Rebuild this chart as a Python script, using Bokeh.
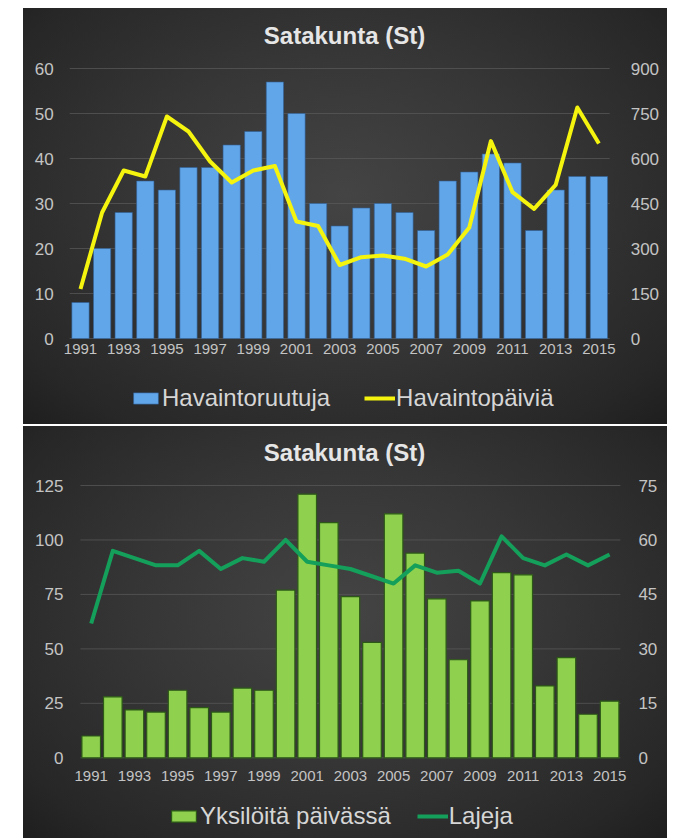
from bokeh.plotting import figure
from bokeh.models import (Range1d, LinearAxis, FixedTicker, Legend, LegendItem, Spacer, Label)
from bokeh.layouts import column, row
from bokeh.embed import file_html
from bokeh.resources import INLINE

years = list(range(1991, 2016))
tick_years = list(range(1991, 2016, 2))

# Top chart
havaintoruutuja = [8, 20, 28, 35, 33, 38, 38, 43, 46, 57, 50, 30, 25, 29, 30, 28, 24, 35, 37, 41, 39, 24, 33, 36, 36]
havaintopaivia = [165, 420, 560, 540, 740, 690, 590, 520, 560, 575, 390, 375, 245, 271, 277, 266, 240, 280, 370, 658, 488, 432, 512, 770, 650]
top_left_ticks = [0, 10, 20, 30, 40, 50, 60]
top_right_ticks = [0, 150, 300, 450, 600, 750, 900]

# Bottom chart
yksiloita = [10, 28, 22, 21, 31, 23, 21, 32, 31, 77, 121, 108, 74, 53, 112, 94, 73, 45, 72, 85, 84, 33, 46, 20, 26]
lajeja = [37, 57, 55, 53, 53, 57, 52, 55, 54, 60, 54, 53, 52, 50, 48, 53, 51, 51.5, 48, 61, 55, 53, 56, 53, 56]
bottom_left_ticks = [0, 25, 50, 75, 100, 125]
bottom_right_ticks = [0, 15, 30, 45, 60, 75]

TITLE = "Satakunta (St)"
BG_STYLE = {"background": "radial-gradient(ellipse at 50% 45%, #444444 0%, #363636 45%, #272727 85%, #1e1e1e 100%)"}

X_LO = years[0] - 0.5
X_HI = years[-1] + 0.5


def build(width, height, x_range, y_range, right_range, left_ticks, right_ticks,
          left_standoff, right_standoff, x_standoff):
    p = figure(width=width, height=height, output_backend="svg", toolbar_location=None,
               x_range=x_range, y_range=y_range,
               min_border_left=0, min_border_right=0, min_border_top=0, min_border_bottom=0,
               styles=BG_STYLE)
    p.border_fill_alpha = 0
    p.background_fill_alpha = 0
    p.outline_line_color = None
    p.xgrid.grid_line_color = None
    p.ygrid.grid_line_color = None

    # gridlines over the plotting area only
    p.segment(x0=[X_LO] * len(left_ticks), x1=[X_HI] * len(left_ticks),
              y0=left_ticks, y1=left_ticks, line_color="#585858", line_alpha=0.75, line_width=1)

    p.extra_y_ranges = {"right": right_range}
    ax_r = LinearAxis(y_range_name="right", ticker=FixedTicker(ticks=right_ticks))
    p.add_layout(ax_r, "right")

    for ax in [p.xaxis[0], p.yaxis[0], ax_r]:
        ax.axis_line_color = None
        ax.major_tick_line_color = None
        ax.minor_tick_line_color = None
        ax.major_tick_out = 0
        ax.major_tick_in = 0
        ax.minor_tick_out = 0
        ax.major_label_text_color = "#c4c4c4"
        ax.major_label_text_font = "Liberation Sans"
        ax.major_label_text_font_size = "17px"
    p.yaxis[0].ticker = FixedTicker(ticks=left_ticks)
    p.yaxis[0].fixed_location = X_LO
    p.yaxis[0].major_label_standoff = left_standoff
    ax_r.fixed_location = X_HI
    ax_r.major_label_standoff = right_standoff
    p.xaxis[0].ticker = FixedTicker(ticks=tick_years)
    p.xaxis[0].fixed_location = 0
    p.xaxis[0].major_label_text_font_size = "15px"
    p.xaxis[0].major_label_standoff = x_standoff
    return p


def add_title(p, sx, sy):
    p.add_layout(Label(x=sx, y=sy, x_units="screen", y_units="screen", text=TITLE,
                       text_font="Liberation Sans", text_font_style="bold",
                       text_font_size="24px", text_color="#e6e6e6",
                       text_align="center", text_baseline="middle"))


def make_legend(p, items, loc, spacing):
    leg = Legend(items=items, orientation="horizontal", location=loc,
                 background_fill_alpha=0, border_line_color=None,
                 label_text_font="Liberation Sans", label_text_font_size="24px",
                 label_text_color="#d6d6d6", glyph_width=31, glyph_height=14,
                 label_standoff=1, spacing=spacing, padding=2, margin=0)
    p.add_layout(leg, "center")


PX_PER_YEAR = 21.6

# ---- Top figure: page y 8..424, x 23..667; frame covers all of it
top_x0 = years[0] - (80 - 23) / PX_PER_YEAR
p1 = build(644, 416,
           Range1d(top_x0, top_x0 + 644 / PX_PER_YEAR),
           Range1d(-86 / 4.5, 60 + 60 / 4.5),
           Range1d(-86 / 0.3, 900 + 60 / 0.3),
           top_left_ticks, top_right_ticks, 16, 21, 5)
b1 = p1.vbar(x=years, top=havaintoruutuja, bottom=0, width=0.8, fill_color="#62a6ea",
             line_color="#2f5f95", line_width=0.6)
l1 = p1.line(years, havaintopaivia, y_range_name="right", line_color="#f4f40e",
             line_width=4, line_join="round")
add_title(p1, 321, 389)
make_legend(p1, [LegendItem(label="Havaintoruutuja", renderers=[b1]),
                 LegendItem(label="Havaintopäiviä", renderers=[l1])], (107, 12), 34)

# ---- Bottom figure: page y 426..838
bot_x0 = years[0] - (90.7 - 23) / PX_PER_YEAR
bpx = (757.3 - 485) / 125.0
p2 = build(644, 412,
           Range1d(bot_x0, bot_x0 + 644 / PX_PER_YEAR),
           Range1d(-80.7 / bpx, 125 + 59 / bpx),
           Range1d(-80.7 / bpx * 0.6, (125 + 59 / bpx) * 0.6),
           bottom_left_ticks, bottom_right_ticks, 17, 18, 13)
b2 = p2.vbar(x=years, top=yksiloita, bottom=0, width=0.86, fill_color="#8fd14f",
             line_color="#2c5a16", line_width=1.2)
l2 = p2.line(years, lajeja, y_range_name="right", line_color="#14a05a",
             line_width=4, line_join="round")
add_title(p2, 321, 386)
make_legend(p2, [LegendItem(label="Yksilöitä päivässä", renderers=[b2]),
                 LegendItem(label="Lajeja", renderers=[l2])], (145, 8), 26)

# 2px white gap between the panels (page background shows through)
divider = Spacer(width=644, height=2)

layout = column(Spacer(width=10, height=8),
                row(Spacer(width=23, height=10), column(p1, divider, p2, spacing=0), spacing=0),
                spacing=0)

open("out.html", "w").write(file_html(layout, INLINE))
